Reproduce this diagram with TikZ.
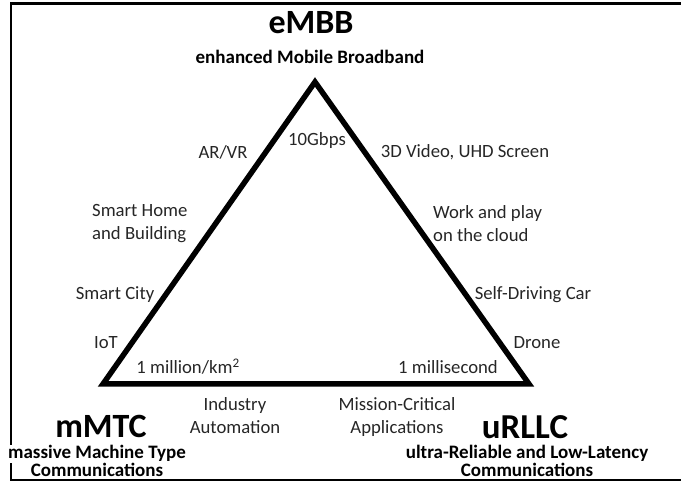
\documentclass[tikz,border=0pt]{standalone}
\usepackage{fontspec}
\setmainfont{Carlito}
\begin{document}
\begin{tikzpicture}[x=1pt,y=-1pt,
    every node/.style={inner sep=0pt, text=black!85},
    title/.style={font=\bfseries\fontsize{34}{34}\selectfont, text=black},
    subtitle/.style={font=\bfseries\fontsize{19}{18}\selectfont, text=black, align=center},
    usecase/.style={font=\fontsize{18.7}{23}\selectfont}]
  \useasboundingbox (0,0) rectangle (681,481);
  % frame
  \draw[line width=2.5pt] (681,3.5) -- (11,3.5) -- (11,445);
  \draw[line width=2.5pt] (11,463) -- (11,480) -- (681,480);
  % triangle
  \coordinate (top) at (315,82);
  \coordinate (left) at (103,384);
  \coordinate (right) at (529,384);
  \draw[line width=5.5pt, line join=miter] (top) -- (left) -- (right) -- cycle;
  % corners
  \node[title] (embb) at (311,23) {eMBB};
  \node[subtitle] (embbtxt) at (310,57) {enhanced Mobile Broadband};
  \node[title] (mmtc) at (101,426) {mMTC};
  \node[subtitle] (mmtctxt) at (97,461) {massive Machine Type\\Communications};
  \node[title, font=\bfseries\fontsize{35}{35}\selectfont] (urllc) at (525,427) {uRLLC};
  \node[subtitle] (urllctxt) at (527,461) {ultra-Reliable and Low-Latency\\Communications};
  % use cases
  \node[usecase] (arvr) at (223,152) {AR/VR};
  \node[usecase] (gbps) at (317,141) {10Gbps};
  \node[usecase] (video) at (465,152) {3D Video, UHD Screen};
  \node[usecase, align=left, anchor=west] (home) at (92,224) {Smart Home\\and Building};
  \node[usecase, align=left, anchor=west] (cloud) at (433,224) {Work and play\\on the cloud};
  \node[usecase] (city) at (115,295) {Smart City};
  \node[usecase] (car) at (533,295) {Self-Driving Car};
  \node[usecase] (iot) at (106,343) {IoT};
  \node[usecase] (drone) at (537,343) {Drone};
  \node[usecase] (density) at (188,367) {1 million/km\textsuperscript{2}};
  \node[usecase] (latency) at (448,367) {1 millisecond};
  \node[usecase, align=center] (industry) at (235,416) {Industry\\Automation};
  \node[usecase, align=center] (mission) at (397,417) {Mission-Critical\\Applications};
\end{tikzpicture}
\end{document}
